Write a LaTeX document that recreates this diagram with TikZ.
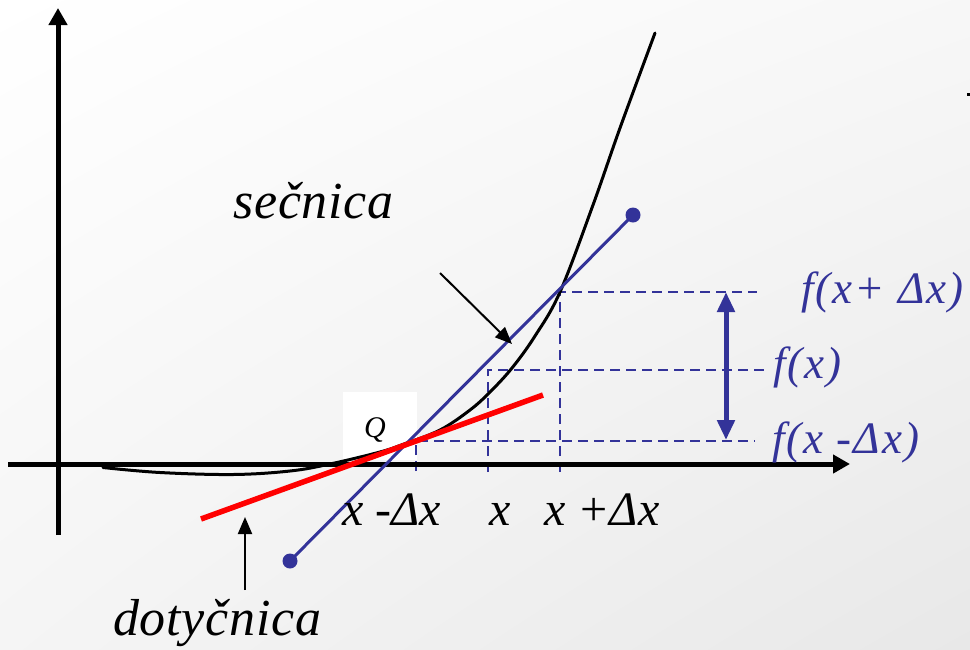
\documentclass[tikz,border=0pt]{standalone}
\usepackage{fontspec}
\setmainfont{Liberation Serif}
\usetikzlibrary{arrows.meta,shadings}
\definecolor{sblue}{RGB}{51,51,153}
\begin{document}
\begin{tikzpicture}[x=1pt,y=-1pt,
  axis/.style={line width=5pt,-{Triangle[width=18pt,length=17pt]}},
  guide/.style={sblue,line width=2pt,dash pattern=on 10pt off 6pt},
  lbl/.style={inner sep=0pt,anchor=base west,font=\fontsize{48}{56}\selectfont\itshape},
  blbl/.style={lbl,text=sblue,font=\fontsize{45}{54}\selectfont\itshape\addfontfeature{LetterSpace=4.5}},
  word/.style={lbl,font=\fontsize{52}{60}\selectfont\itshape\addfontfeature{LetterSpace=1.5}},
  pointer/.style={line width=2pt,-{Triangle[width=14pt,length=17pt]}}]
\useasboundingbox (0,0) rectangle (970,649);
\shade[upper left=white,upper right=white!97!black,lower left=white!96!black,lower right=white!91!black] (0,0) rectangle (970,649);
% white box behind Q
\fill[white] (343,392) rectangle (417,460);
% named points
\coordinate (yb) at (58,535); \coordinate (yt) at (58,8);
\coordinate (xl) at (8,464); \coordinate (xr) at (850,464);
\coordinate (A) at (416,441); \coordinate (A0) at (416,471);
\coordinate (B) at (488,370); \coordinate (B0) at (488,472);
\coordinate (C) at (560,292); \coordinate (C0) at (560,472);
\coordinate (Ae) at (755,441); \coordinate (Be) at (770,370); \coordinate (Ce) at (757,292);
\coordinate (S1) at (290,561); \coordinate (S2) at (633,215);
\coordinate (T1) at (201,519); \coordinate (T2) at (543,395);
\coordinate (D1) at (726,292); \coordinate (D2) at (726,440);
\coordinate (P1) at (440,273); \coordinate (P2) at (512,344);
\coordinate (R1) at (245,590); \coordinate (R2) at (245,517);
% dashed guides
\draw[guide] (A0) -- (A) -- (Ae);
\draw[guide] (B0) -- (B) -- (Be);
\draw[guide] (C0) -- (C) -- (Ce);
% axes
\draw[axis] (yb) -- (yt);
\draw[axis] (xl) -- (xr);
% curve
\draw[line width=3pt,line cap=round] plot[smooth,tension=0.6] coordinates {(103,467.5) (160,472.5) (233,474.5) (290,471) (330,464) (380,452) (404,444) (440,430) (470,410) (490,392) (512,368) (535,336) (560,292) (593,205) (620,128) (655,33)};
% secant
\draw[sblue,line width=3pt] (S1) -- (S2);
\fill[sblue] (S1) circle (7.5pt);
\fill[sblue] (S2) circle (7.5pt);
% tangent
\draw[red,line width=5.5pt] (T1) -- (T2);
% double arrow
\draw[sblue,line width=5pt,{Triangle[width=17pt,length=20pt]}-{Triangle[width=17pt,length=20pt]}] (D1) -- (D2);
% pointers
\draw[pointer] (P1) -- (P2);
\draw[pointer] (R1) -- (R2);
% labels
\node[word] (sec) at (233,218) {sečnica};
\node[word] (dot) at (113,635) {dotyčnica};
\node[inner sep=0pt,anchor=base,font=\fontsize{30}{34}\selectfont\itshape] (Q) at (375,437) {Q};
\node[lbl] (l1) at (342,525) {x -Δx};
\node[lbl] (l2) at (489,525) {x};
\node[lbl] (l3) at (544,525) {x +Δx};
\node[blbl] (f1) at (801,303) {f(x+ Δx)};
\node[blbl] (f2) at (773,378) {f(x)};
\node[blbl] (f3) at (772,453) {f(x -Δx)};
\fill (967,93) rectangle (970,96);
\end{tikzpicture}
\end{document}
